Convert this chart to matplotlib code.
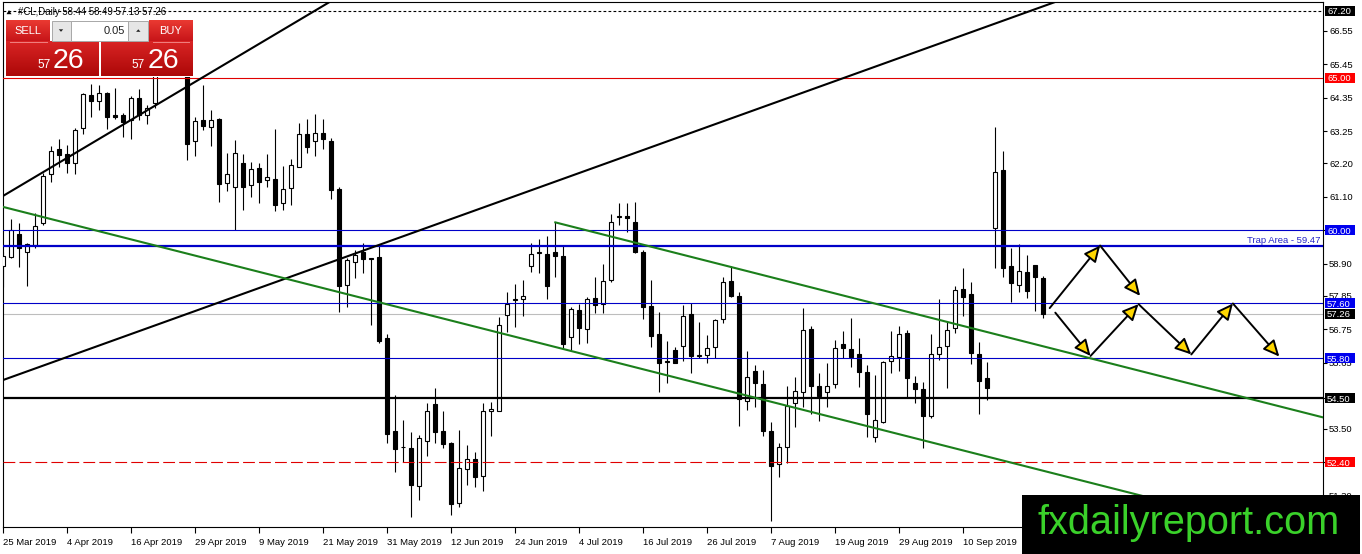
import numpy as np
import pandas as pd
import matplotlib
matplotlib.use("Agg")
import matplotlib.pyplot as plt
from matplotlib.patches import Rectangle, FancyArrowPatch, Polygon
from matplotlib.colors import LinearSegmentedColormap
from matplotlib.transforms import blended_transform_factory

plt.rcParams['font.family'] = ['Liberation Sans', 'DejaVu Sans']
plt.rcParams['lines.scale_dashes'] = False

# ---------------- data ----------------
title_text = "#CL,Daily 58.44 58.49 57.13 57.26"

opens = [58.83, 59.11, 59.88, 59.30, 59.52, 60.25, 61.84, 62.66, 62.50, 62.22,
         63.34, 64.44, 64.23, 64.49, 63.77, 63.78, 63.62, 64.33, 63.78, 64.17,
         65.60, 66.10, 65.80, 65.30, 62.94, 63.62, 63.40, 63.65, 61.56, 61.43,
         62.22, 61.49, 62.03, 61.65, 61.67, 60.89, 61.38, 62.09, 63.16, 62.94,
         63.20, 62.94, 61.34, 58.21, 58.95, 59.30, 59.08, 59.13, 56.48, 53.43,
         52.91, 52.85, 51.62, 53.10, 54.30, 53.43, 53.02, 51.05, 52.16, 52.49,
         51.93, 54.09, 54.09, 57.23, 57.72, 57.74, 58.83, 59.27, 59.22, 59.28,
         59.16, 56.49, 57.39, 56.75, 57.77, 57.57, 58.37, 60.43, 60.47, 60.26,
         59.30, 57.52, 56.60, 55.69, 56.08, 56.21, 57.26, 55.88, 55.91, 56.18,
         57.08, 58.35, 57.85, 54.41, 55.39, 54.96, 53.42, 52.34, 52.89, 54.33,
         54.71, 56.75, 54.89, 54.71, 54.96, 56.26, 56.10, 55.93, 55.34, 53.21,
         53.72, 55.71, 55.86, 56.62, 54.98, 54.79, 53.91, 55.93, 56.21, 56.79,
         58.08, 57.91, 55.94, 55.17, 60.07, 61.98, 58.84, 58.21, 58.62, 58.86,
         58.44]
highs = [59.30, 60.36, 60.23, 59.60, 60.56, 61.87, 62.76, 62.99, 62.80, 63.34,
         64.51, 64.80, 64.77, 64.52, 64.66, 63.86, 64.40, 64.62, 64.11, 65.90,
         66.50, 66.45, 66.00, 65.40, 63.70, 64.76, 63.94, 63.67, 62.54, 62.96,
         62.50, 62.25, 62.20, 62.50, 63.31, 62.11, 62.33, 63.51, 63.64, 63.81,
         63.64, 63.02, 61.41, 59.08, 59.34, 59.57, 59.10, 59.52, 56.60, 54.60,
         53.78, 53.40, 53.29, 54.33, 54.82, 54.06, 53.05, 53.45, 52.96, 52.74,
         54.33, 54.38, 57.15, 57.99, 58.24, 58.37, 59.59, 59.70, 59.81, 60.26,
         59.49, 57.50, 57.58, 57.80, 58.46, 58.90, 60.53, 60.90, 60.90, 60.92,
         59.35, 58.37, 57.31, 56.38, 56.18, 57.55, 57.63, 57.00, 56.57, 57.08,
         58.46, 58.83, 57.99, 56.05, 55.58, 55.42, 53.72, 53.04, 54.90, 55.20,
         57.44, 56.86, 55.31, 55.64, 56.40, 56.71, 57.11, 56.46, 55.58, 55.26,
         55.72, 56.71, 56.86, 56.73, 55.22, 55.04, 56.60, 57.74, 57.04, 58.17,
         58.77, 58.30, 56.33, 55.67, 63.40, 62.61, 59.43, 59.55, 59.19, 58.86,
         58.49]
lows = [58.15, 59.08, 58.81, 58.17, 59.41, 60.17, 61.59, 62.07, 61.89, 61.84,
        63.16, 63.70, 63.94, 63.31, 63.64, 63.05, 62.98, 63.62, 63.48, 64.00,
        65.20, 65.30, 65.15, 62.31, 62.44, 63.29, 62.77, 60.94, 61.30, 60.01,
        60.67, 61.08, 60.90, 61.43, 60.64, 60.67, 60.83, 62.09, 62.54, 62.44,
        62.66, 61.01, 57.33, 57.50, 58.43, 58.61, 56.90, 56.32, 53.02, 52.09,
        52.41, 50.59, 51.16, 52.60, 53.04, 52.85, 50.67, 50.92, 51.65, 51.57,
        51.46, 53.26, 54.09, 56.68, 56.82, 57.19, 58.64, 58.61, 57.74, 58.46,
        56.13, 56.07, 56.27, 56.30, 57.30, 57.30, 58.31, 60.17, 59.95, 59.25,
        57.08, 56.18, 54.71, 54.98, 55.66, 55.72, 55.31, 55.80, 55.66, 55.80,
        56.95, 57.80, 53.59, 54.11, 54.20, 53.26, 50.48, 51.92, 52.38, 53.54,
        54.20, 53.98, 53.76, 54.22, 54.82, 55.80, 55.53, 54.85, 53.23, 53.07,
        53.67, 55.33, 55.40, 54.54, 54.33, 52.86, 53.84, 55.75, 54.82, 56.62,
        57.19, 55.61, 53.98, 54.43, 58.77, 58.46, 57.66, 57.99, 57.77, 57.36,
        57.13]
closes = [59.16, 60.01, 59.41, 59.55, 60.14, 61.78, 62.59, 62.48, 62.20, 63.29,
          64.47, 64.23, 64.49, 63.70, 63.70, 63.56, 64.33, 63.78, 64.00, 65.60,
          66.10, 65.80, 65.30, 62.82, 63.59, 63.43, 63.62, 61.52, 61.85, 62.52,
          61.43, 62.00, 61.59, 61.74, 60.83, 61.34, 62.14, 63.16, 62.72, 63.20,
          62.99, 61.32, 58.17, 59.01, 59.19, 59.05, 59.05, 56.38, 53.32, 52.82,
          52.89, 51.65, 53.18, 54.06, 53.40, 52.99, 51.03, 52.20, 52.49, 51.90,
          54.06, 54.14, 56.90, 57.59, 57.74, 57.85, 59.21, 59.29, 58.18, 59.17,
          56.27, 57.42, 56.79, 57.75, 57.55, 58.34, 60.26, 60.47, 60.39, 59.30,
          57.48, 56.54, 55.64, 55.72, 55.66, 57.19, 55.89, 55.90, 56.13, 57.06,
          58.31, 57.86, 54.46, 55.18, 54.98, 53.43, 52.28, 52.88, 54.24, 54.74,
          56.73, 54.89, 54.57, 54.89, 56.13, 56.15, 55.84, 55.36, 53.97, 53.78,
          55.67, 55.89, 56.59, 55.15, 54.79, 53.91, 55.96, 56.16, 56.73, 58.04,
          57.82, 55.97, 55.07, 54.82, 61.92, 58.77, 58.26, 58.67, 58.02, 58.48,
          57.26]

trading_days = pd.bdate_range("2019-03-25", "2019-09-24").drop(pd.Timestamp("2019-04-19"))

date_tick_labels = ["25 Mar 2019", "4 Apr 2019", "16 Apr 2019", "29 Apr 2019",
                    "9 May 2019", "21 May 2019", "31 May 2019", "12 Jun 2019",
                    "24 Jun 2019", "4 Jul 2019", "16 Jul 2019", "26 Jul 2019",
                    "7 Aug 2019", "19 Aug 2019", "29 Aug 2019", "10 Sep 2019"]

price_ticks = [66.55, 65.45, 64.35, 63.25, 62.20, 61.10, 60.00, 58.90, 57.85,
               56.75, 55.65, 54.50, 53.50, 52.40, 51.30]

level_prices = [67.20, 65.00, 60.00, 59.47, 57.60, 57.26, 55.80, 54.50, 52.40]
level_boxed = [True, True, True, False, True, True, True, True, True]
trap_label = "Trap Area - 59.47"

# trend lines as (bar index, price) anchors
trend_black_short = [(-0.075, 61.12), (41.2, 67.55)]
trend_black_long = [(-0.04, 55.09), (131.1, 67.45)]
channel_lower = [(-0.075, 60.77), (142.1, 51.31)]
channel_upper = [(69.0, 60.26), (164.9, 53.87)]

# projected zig-zag paths (bar index, price)
path_upper = [(130.8, 57.45), (137.1, 59.50), (142.1, 57.85)]
path_lower = [(131.5, 57.30), (135.9, 55.88), (141.9, 57.58), (148.5, 55.93),
              (153.7, 57.60), (159.5, 55.86)]

# ---------------- layout ----------------
W, H = 1362, 554
AX_L, AX_R, AX_T, AX_B = 2.7, 1322.7, 1.5, 527.3
XMIN, XMAX = -0.075, 164.925
YMIN, YMAX = 50.262, 67.502

fig = plt.figure(figsize=(W / 100, H / 100), dpi=100)
ax = fig.add_axes([AX_L / W, (H - AX_B) / H, (AX_R - AX_L) / W, (AX_B - AX_T) / H])
ax.set_xlim(XMIN, XMAX)
ax.set_ylim(YMIN, YMAX)

BLUE = '#0000C8'
BLUE_BOX = '#0000EE'
RED = '#E00000'
GREEN = '#1B7F1B'

o = np.array(opens); h = np.array(highs); l = np.array(lows); c = np.array(closes)
x = np.arange(len(o))
up = c >= o

ax.vlines(x, l, h, color='black', lw=0.8, zorder=3)
bottoms = np.minimum(o, c)
heights = np.abs(c - o)
ax.bar(x[up], heights[up], bottom=bottoms[up], width=0.52, facecolor='white',
       edgecolor='black', lw=0.8, zorder=4)
ax.bar(x[~up], heights[~up], bottom=bottoms[~up], width=0.52, facecolor='black',
       edgecolor='black', lw=0.8, zorder=4)

# horizontal levels
level_styles = [
    dict(color='black', lw=0.8, dashes=(2.0, 1.6)),
    dict(color=RED, lw=0.8),
    dict(color=BLUE, lw=0.8),
    dict(color=BLUE, lw=1.6),
    dict(color=BLUE, lw=0.8),
    dict(color='#BDBDBD', lw=0.8),
    dict(color=BLUE, lw=0.8),
    dict(color='black', lw=1.6),
    dict(color=RED, lw=0.8, dashes=(8.5, 3.0)),
]
box_colors = ['black', '#FF0000', BLUE_BOX, None, BLUE_BOX, 'black', BLUE_BOX, 'black', '#FF0000']
for p, st in zip(level_prices, level_styles):
    zo = 2 if st['color'] == '#BDBDBD' else 5
    ax.axhline(p, zorder=zo, **st)

# trend lines
ax.axline(trend_black_short[0], trend_black_short[1], color='black', lw=1.5, zorder=5)
ax.axline(trend_black_long[0], trend_black_long[1], color='black', lw=1.5, zorder=5)
ax.axline(channel_lower[0], channel_lower[1], color=GREEN, lw=1.5, zorder=5)
(ux0, uy0), (ux1, uy1) = channel_upper
slope_u = (uy1 - uy0) / (ux1 - ux0)
ax.plot([ux0, ux0 + 120], [uy0, uy0 + slope_u * 120], color=GREEN, lw=1.5, zorder=5)

# zig-zag arrows
for path in (path_upper, path_lower):
    for (xa, ya), (xb, yb) in zip(path[:-1], path[1:]):
        arr = FancyArrowPatch((xa, ya), (xb, yb),
                              arrowstyle='-|>,head_length=0.85,head_width=0.4',
                              mutation_scale=11.5, shrinkA=0, shrinkB=0,
                              facecolor='#FFD700', edgecolor='black', lw=1.4,
                              zorder=6)
        ax.add_patch(arr)

# axes styling
for sp in ax.spines.values():
    sp.set_linewidth(0.8)
    sp.set_color('black')
ax.set_facecolor('white')

tick_idx = [trading_days.get_loc(pd.Timestamp(s)) for s in date_tick_labels]
ax.set_xticks(tick_idx)
ax.set_xticklabels(date_tick_labels)
for lab in ax.get_xticklabels():
    lab.set_horizontalalignment('left')
ax.tick_params(axis='x', length=4, width=0.8, pad=3.5, labelsize=6.8, direction='out')

ax.yaxis.tick_right()
ax.set_yticks(price_ticks)
ax.set_yticklabels([f"{v:.2f}" for v in price_ticks])
ax.tick_params(axis='y', which='both', left=False, right=True, labelleft=False,
               labelright=True, length=3, width=0.8, pad=1.6, labelsize=6.8,
               direction='out')

# price boxes on the right scale
ax_w_px = AX_R - AX_L
ax_h_px = AX_B - AX_T
px_per_unit = ax_h_px / (YMAX - YMIN)
trans = blended_transform_factory(ax.transAxes, ax.transData)
box_left = (1325 - AX_L) / ax_w_px
box_w = 29.5 / ax_w_px
box_h = 10.0 / px_per_unit
for p, boxed, bc in zip(level_prices, level_boxed, box_colors):
    if not boxed:
        continue
    ax.add_patch(Rectangle((box_left, p - box_h / 2), box_w, box_h, transform=trans,
                           facecolor=bc, edgecolor='none', clip_on=False, zorder=7))
    ax.text(box_left + 2.0 / ax_w_px, p, f"{p:.2f}", transform=trans, color='white',
            fontsize=6.8, ha='left', va='center_baseline', clip_on=False, zorder=8)

ax.annotate(trap_label, xy=((1320.5 - AX_L) / ax_w_px, level_prices[3]),
            xycoords=trans, xytext=(0, 1.2), textcoords='offset points',
            ha='right', va='bottom', color='#2424C8', fontsize=6.8, zorder=8)

# ---------------- overlay (panel, title, logo) ----------------
ov = fig.add_axes([0, 0, 1, 1], zorder=10)
ov.set_facecolor('none')
ov.patch.set_visible(False)


def grad_rect(x0, y0, w, hgt, top, bottom):
    cmap = LinearSegmentedColormap.from_list('g', [top, bottom])
    ov.imshow(np.linspace(0, 1, 64).reshape(-1, 1), cmap=cmap, aspect='auto',
              extent=(x0, x0 + w, y0 + hgt, y0), origin='upper', interpolation='bilinear',
              zorder=2)


# title
ov.add_patch(Polygon([(6.5, 14.2), (11.5, 14.2), (9.0, 10.0)], closed=True,
                     facecolor='black', edgecolor='none', zorder=3))
ov.text(18, 12, title_text, fontsize=6.9, ha='left', va='center', color='black', zorder=3)

# panel background
ov.add_patch(Rectangle((5, 19.5), 188.5, 57, facecolor='white', edgecolor='none', zorder=1))
grad_rect(6, 20.5, 44, 21, '#EA3A32', '#C71519')
grad_rect(149.3, 20.5, 43.4, 21, '#EA3A32', '#C71519')
grad_rect(6, 41.7, 93, 34.3, '#D92424', '#AC0808')
grad_rect(101, 41.7, 91.7, 34.3, '#D92424', '#AC0808')
ov.plot([10, 47], [41.6, 41.6], color='#F08080', lw=0.7, zorder=3)
ov.plot([153, 189], [41.6, 41.6], color='#F08080', lw=0.7, zorder=3)
ov.add_patch(Rectangle((51.5, 20.5), 19.5, 20, facecolor='#E6E6E6', edgecolor='#A8A8A8', lw=0.7, zorder=3))
ov.add_patch(Rectangle((71, 20.5), 57.3, 20, facecolor='white', edgecolor='#A8A8A8', lw=0.7, zorder=3))
ov.add_patch(Rectangle((128.3, 20.5), 20, 20, facecolor='#E6E6E6', edgecolor='#A8A8A8', lw=0.7, zorder=3))
ov.add_patch(Polygon([(58.8, 29.3), (63.2, 29.3), (61.0, 31.8)], closed=True, facecolor='#202020', zorder=4))
ov.add_patch(Polygon([(136.1, 31.8), (140.5, 31.8), (138.3, 29.3)], closed=True, facecolor='#202020', zorder=4))
ov.text(125.5, 30.8, "0.05", fontsize=8, ha='right', va='center', color='#202020', zorder=4)
ov.text(27.5, 31.2, "SELL", fontsize=8, ha='center', va='center', color='white', zorder=4)
ov.text(171.0, 31.2, "BUY", fontsize=8, ha='center', va='center', color='white', zorder=4)
ov.text(50.5, 68.3, "57", fontsize=8.6, ha='right', va='baseline', color='white', zorder=4)
ov.text(52.5, 68.3, "26", fontsize=20.5, ha='left', va='baseline', color='white', zorder=4)
ov.text(145.0, 68.3, "57", fontsize=8.6, ha='right', va='baseline', color='white', zorder=4)
ov.text(147.5, 68.3, "26", fontsize=20.5, ha='left', va='baseline', color='white', zorder=4)

# logo
ov.add_patch(Rectangle((1022, 495), 338, 62, facecolor='black', edgecolor='none', zorder=3))
ov.text(1038, 533.5, "fxdailyreport.com", fontsize=28.6, ha='left', va='baseline',
        color='#3AD12A', zorder=4)

ov.set_xlim(0, W)
ov.set_ylim(H, 0)
ov.axis('off')

fig.savefig("out.png", dpi=100, facecolor='white')
